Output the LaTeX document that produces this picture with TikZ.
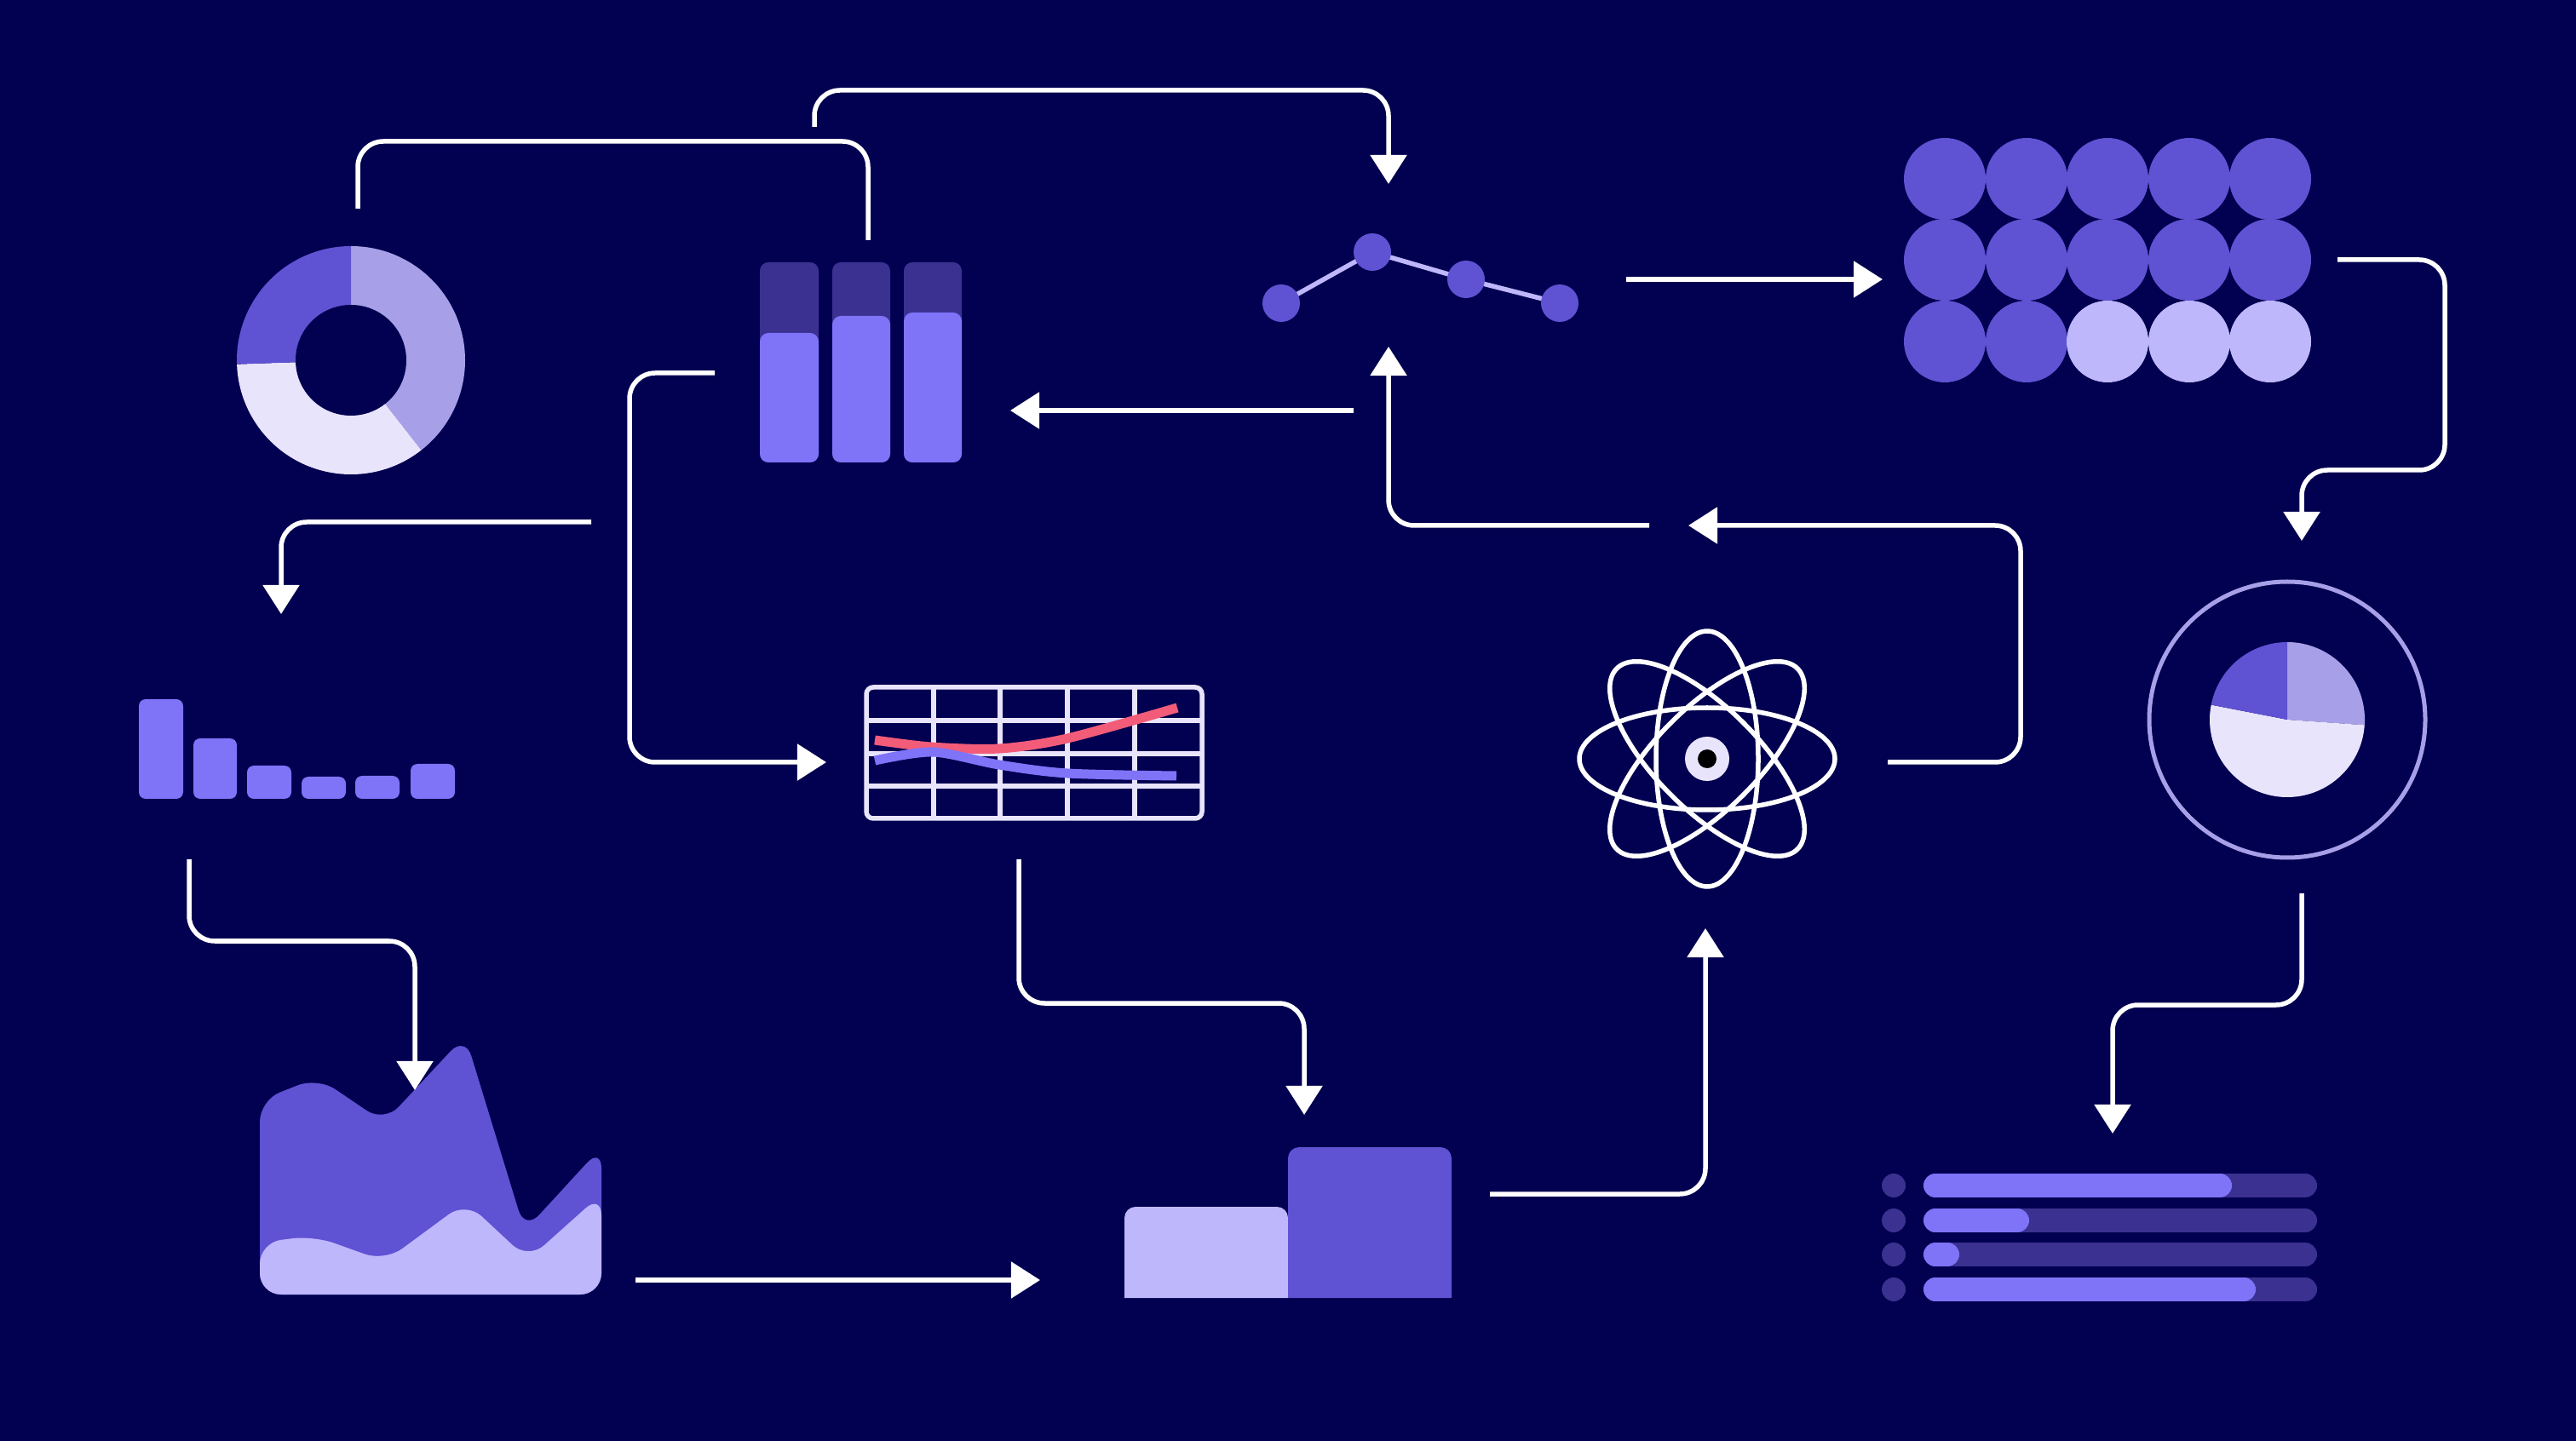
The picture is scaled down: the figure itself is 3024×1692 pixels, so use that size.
\documentclass[tikz,border=0pt]{standalone}
\usetikzlibrary{arrows.meta}
\definecolor{navy}{HTML}{020050}
\definecolor{trackdark}{HTML}{3B3191}
\definecolor{midviolet}{HTML}{5F52D3}
\definecolor{brightviolet}{HTML}{7F73F8}
\definecolor{softviolet}{HTML}{BFB7FB}
\definecolor{lavender}{HTML}{A7A0E8}
\definecolor{paleviolet}{HTML}{E8E4FC}
\definecolor{redline}{HTML}{F25C78}
\begin{document}
\begin{tikzpicture}[x=0.01cm,y=-0.01cm,
    wire/.style={draw=white,line width=0.055cm,rounded corners=0.3cm},
    flow/.style={wire,-{Triangle[length=0.34cm,width=0.42cm]}},
    barbox/.style={rounded corners=0.1cm},
    gridline/.style={draw=paleviolet,line width=0.055cm},
    orbit/.style={draw=white,line width=0.055cm},
    track/.style={draw=trackdark,line width=0.28cm,line cap=round},
    level/.style={draw=brightviolet,line width=0.28cm,line cap=round}]

    % Background
    \fill[navy] (0,0) rectangle (3024,1692);

    % Donut chart
    \fill[lavender] (412,423) -- ++(270:134) arc[start angle=270,end angle=412,radius=134] -- cycle;
    \fill[paleviolet] (412,423) -- ++(52:134) arc[start angle=52,end angle=178,radius=134] -- cycle;
    \fill[midviolet] (412,423) -- ++(178:134) arc[start angle=178,end angle=270,radius=134] -- cycle;
    \fill[navy] (412,423) circle (65);

    % Stacked bars
    \fill[trackdark,barbox] (892,308) rectangle (961,543);
    \fill[trackdark,barbox] (977,308) rectangle (1045,543);
    \fill[trackdark,barbox] (1061,308) rectangle (1129,543);
    \fill[brightviolet,barbox] (892,391) rectangle (961,543);
    \fill[brightviolet,barbox] (977,371) rectangle (1045,543);
    \fill[brightviolet,barbox] (1061,367) rectangle (1129,543);

    % Line of four points
    \draw[softviolet,line width=0.055cm] (1504,356) -- (1611,296) -- (1721,328) -- (1831,356);
    \fill[midviolet] (1504,356) circle (22) (1611,296) circle (22) (1721,328) circle (22) (1831,356) circle (22);

    % Grid of dots
    \fill[midviolet] (2283,210) circle (48) (2379,210) circle (48) (2474,210) circle (48) (2570,210) circle (48) (2665,210) circle (48);
    \fill[midviolet] (2283,305) circle (48) (2379,305) circle (48) (2474,305) circle (48) (2570,305) circle (48) (2665,305) circle (48);
    \fill[midviolet] (2283,401) circle (48) (2379,401) circle (48);
    \fill[softviolet] (2474,401) circle (48) (2570,401) circle (48) (2665,401) circle (48);

    % Pie inside a ring
    \draw[lavender,line width=0.05cm] (2685,845) circle (162);
    \fill[lavender] (2685,845) -- ++(270:91) arc[start angle=270,end angle=364,radius=91] -- cycle;
    \fill[paleviolet] (2685,845) -- ++(4:91) arc[start angle=4,end angle=191,radius=91] -- cycle;
    \fill[midviolet] (2685,845) -- ++(191:91) arc[start angle=191,end angle=270,radius=91] -- cycle;

    % Atom
    \draw[orbit] (2004,891) ellipse (150 and 60);
    \draw[orbit] (2004,891) ellipse (60 and 150);
    \draw[orbit,rotate around={45:(2004,891)}] (2004,891) ellipse (150 and 60);
    \draw[orbit,rotate around={-45:(2004,891)}] (2004,891) ellipse (150 and 60);
    \fill[paleviolet] (2004,891) circle (26);
    \fill[black] (2004,891) circle (11);

    % Table with two curves
    \draw[gridline] (1096,807) -- (1096,961) (1174,807) -- (1174,961) (1253,807) -- (1253,961) (1332,807) -- (1332,961);
    \draw[gridline] (1017,846) -- (1411,846) (1017,885) -- (1411,885) (1017,923) -- (1411,923);
    \draw[gridline,rounded corners=0.08cm] (1017,807) rectangle (1411,961);
    \draw[redline,line width=0.11cm] plot[smooth] coordinates {(1027,869) (1093,877) (1173,879) (1253,867) (1382,831)};
    \draw[brightviolet,line width=0.11cm] plot[smooth] coordinates {(1027,893) (1095,883) (1173,898) (1253,908) (1381,911)};

    % Small bar chart
    \fill[brightviolet,rounded corners=0.08cm] (163,821) rectangle (215,938);
    \fill[brightviolet,rounded corners=0.08cm] (227,867) rectangle (278,938);
    \fill[brightviolet,rounded corners=0.08cm] (290,899) rectangle (342,938);
    \fill[brightviolet,rounded corners=0.08cm] (354,912) rectangle (406,938);
    \fill[brightviolet,rounded corners=0.08cm] (417,911) rectangle (469,938);
    \fill[brightviolet,rounded corners=0.08cm] (482,897) rectangle (534,938);

    % Area chart
    \fill[midviolet,rounded corners=0.25cm] (305,1520) -- (305,1292) -- (373,1265) -- (451,1318) -- (546,1216) -- (616,1445) -- (706,1347) -- (706,1520) -- cycle;
    \fill[softviolet,rounded corners=0.25cm] (305,1520) -- (305,1459) -- (368,1451) -- (452,1481) -- (547,1411) -- (620,1479) -- (706,1402) -- (706,1520) -- cycle;

    % Two steps
    \fill[softviolet] (1320,1524) [rounded corners=0.13cm] -- (1320,1417) -- (1512,1417) -- (1512,1490) [sharp corners] -- (1512,1524) -- cycle;
    \fill[midviolet] (1512,1524) [rounded corners=0.13cm] -- (1512,1347) -- (1704,1347) -- (1704,1490) [sharp corners] -- (1704,1524) -- cycle;

    % List of progress bars
    \fill[trackdark] (2223,1392) circle (14) (2223,1433) circle (14) (2223,1473) circle (14) (2223,1514) circle (14);
    \draw[track] (2272,1392) -- (2706,1392);
    \draw[track] (2272,1433) -- (2706,1433);
    \draw[track] (2272,1473) -- (2706,1473);
    \draw[track] (2272,1514) -- (2706,1514);
    \draw[level] (2272,1392) -- (2606,1392);
    \draw[level] (2272,1433) -- (2368,1433);
    \draw[level] (2272,1473) -- (2286,1473);
    \draw[level] (2272,1514) -- (2634,1514);

    % Ends and bends of the connectors
    \coordinate (donutTop) at (420,245);
    \coordinate (barsTop) at (1019,282);
    \coordinate (bridge) at (700,166);
    \coordinate (barsUp) at (956,149);
    \coordinate (lineDrop) at (1630,216);
    \coordinate (highway) at (1300,106);
    \coordinate (lineOut) at (1909,328);
    \coordinate (dotsIn) at (2210,328);
    \coordinate (dotsOut) at (2744,305);
    \coordinate (dotsSide) at (2870,400);
    \coordinate (ringStep) at (2790,552);
    \coordinate (ringIn) at (2702,635);
    \coordinate (ringOut) at (2702,1049);
    \coordinate (listStep) at (2600,1180);
    \coordinate (listIn) at (2480,1331);
    \coordinate (lineBack) at (1589,482);
    \coordinate (barsIn) at (1186,482);
    \coordinate (atomOut) at (2216,895);
    \coordinate (atomSide) at (2372,750);
    \coordinate (gapRight) at (1982,617);
    \coordinate (gapLeft) at (1936,617);
    \coordinate (lineIn) at (1630,407);
    \coordinate (barsOut) at (839,438);
    \coordinate (tableSide) at (739,650);
    \coordinate (tableIn) at (970,895);
    \coordinate (donutOut) at (694,613);
    \coordinate (smallIn) at (330,721);
    \coordinate (smallOut) at (222,1009);
    \coordinate (areaStep) at (350,1105);
    \coordinate (areaIn) at (487,1280);
    \coordinate (tableOut) at (1196,1009);
    \coordinate (stepsBend) at (1350,1178);
    \coordinate (stepsIn) at (1531,1309);
    \coordinate (areaOut) at (746,1503);
    \coordinate (stepsLeft) at (1221,1503);
    \coordinate (stepsOut) at (1749,1402);
    \coordinate (atomIn) at (2002,1090);

    % Connectors
    \draw[wire] (donutTop) |- (bridge) -| (barsTop);
    \draw[flow] (barsUp) |- (highway) -| (lineDrop);
    \draw[flow] (lineOut) -- (dotsIn);
    \draw[flow] (dotsOut) -| (dotsSide) |- (ringStep) -| (ringIn);
    \draw[flow] (ringOut) |- (listStep) -| (listIn);
    \draw[flow] (lineBack) -- (barsIn);
    \draw[flow] (atomOut) -| (atomSide) |- (gapRight);
    \draw[flow] (gapLeft) -| (lineIn);
    \draw[flow] (barsOut) -| (tableSide) |- (tableIn);
    \draw[flow] (donutOut) -| (smallIn);
    \draw[flow] (smallOut) |- (areaStep) -| (areaIn);
    \draw[flow] (tableOut) |- (stepsBend) -| (stepsIn);
    \draw[flow] (areaOut) -- (stepsLeft);
    \draw[flow] (stepsOut) -| (atomIn);

\end{tikzpicture}
\end{document}
